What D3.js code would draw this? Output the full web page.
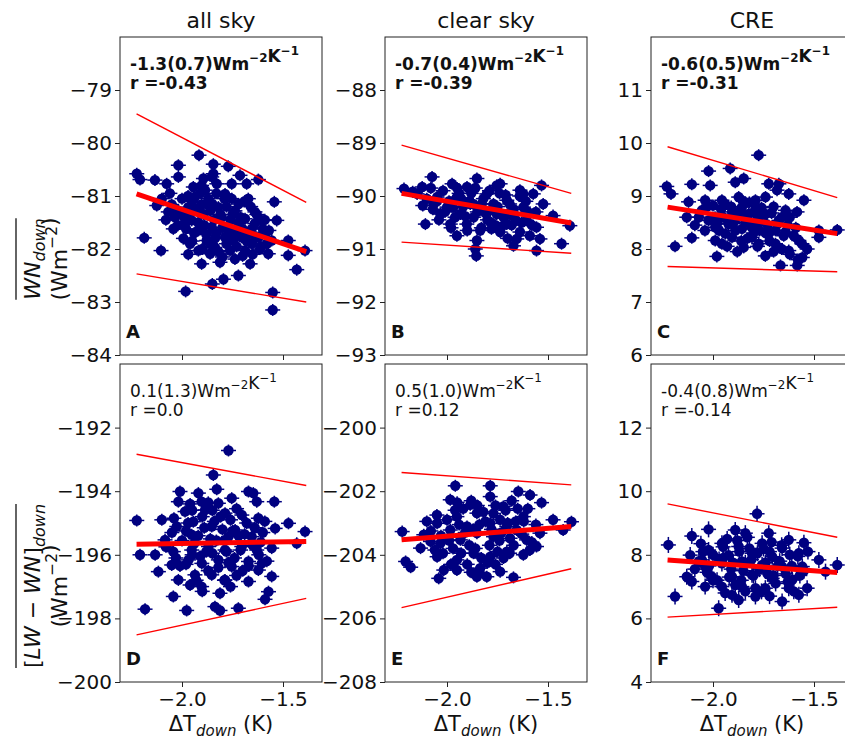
<!DOCTYPE html>
<html>
<head>
<meta charset="utf-8">
<script src="https://cdn.jsdelivr.net/npm/d3@7/dist/d3.min.js"></script>
<style>
  body { margin: 0; background: #fff; }
  text { font-family: "DejaVu Sans", sans-serif; fill: #111; }
</style>
</head>
<body>
<div class="vis-holder"></div>
<script>
// column titles and panel letters
var columnTitles = ["all sky", "clear sky", "CRE"];
var panelLetters = ["A", "B", "C", "D", "E", "F"];
// regression slope (uncertainty) and correlation text per panel
var slopeText = ["-1.3(0.7)", "-0.7(0.4)", "-0.6(0.5)", "0.1(1.3)", "0.5(1.0)", "-0.4(0.8)"];
var rText = ["-0.43", "-0.39", "-0.31", "0.0", "0.12", "-0.14"];

// axis limits and ticks
var xDomain = [-2.307, -1.307];
var xTicks = [-2.0, -1.5];
var yDomains = [[-84, -78], [-93, -87], [6, 12], [-200, -190], [-208, -198], [4, 14]];
var yTicks = [
  [-84, -83, -82, -81, -80, -79],
  [-93, -92, -91, -90, -89, -88],
  [6, 7, 8, 9, 10, 11],
  [-200, -198, -196, -194, -192],
  [-208, -206, -204, -202, -200],
  [4, 6, 8, 10, 12]
];

// fit line (thick) and the two bounding lines (thin), at the ends of fitX
var fitX = [-2.225, -1.385];
var fitY = [[-80.96, -82.05], [-89.95, -90.51], [8.79, 8.29], [-195.67, -195.58], [-203.53, -203.11], [7.84, 7.44]];
var upperY = [[-79.45, -81.12], [-89.04, -89.95], [9.93, 8.97], [-192.84, -193.82], [-201.41, -201.80], [9.60, 8.55]];
var lowerY = [[-82.47, -83.00], [-90.87, -91.08], [7.67, 7.57], [-198.52, -197.37], [-205.66, -204.44], [6.04, 6.35]];

// scatter points [dT_down, value]
var pointsA = [
  [-1.916,-80.23],[-2.018,-80.42],[-1.845,-80.40],[-1.771,-80.44],[-2.224,-80.58],[-2.208,-80.69],[-2.134,-80.70],[-2.076,-80.77],
  [-2.018,-80.64],[-1.894,-80.67],[-1.845,-80.58],[-1.713,-80.61],[-1.680,-80.77],[-1.622,-80.69],[-1.543,-81.11],[-2.125,-81.18],
  [-2.187,-81.79],[-2.104,-82.03],[-1.969,-82.10],[-1.919,-82.03],[-1.903,-82.28],[-1.812,-82.25],[-1.738,-82.19],[-1.663,-82.28],
  [-1.721,-82.50],[-1.795,-82.57],[-1.850,-82.66],[-1.982,-82.80],[-1.551,-82.82],[-1.551,-83.15],[-1.432,-82.39],[-1.391,-82.03],
  [-1.474,-82.12],[-1.474,-81.84],[-1.531,-81.46],[-1.605,-81.46],[-1.589,-81.71],[-1.639,-81.30],[-1.672,-81.05],[-1.754,-81.05],
  [-2.051,-81.16],[-2.035,-81.40],[-2.043,-81.62],[-1.993,-81.80],[-1.952,-81.46],[-1.969,-81.21],[-1.936,-81.02],[-1.944,-80.83],
  [-1.886,-80.89],[-1.870,-81.16],[-1.894,-81.34],[-1.853,-81.59],[-1.878,-81.84],[-1.837,-81.97],[-1.787,-81.78],[-1.804,-81.40],
  [-1.820,-81.21],[-1.787,-80.96],[-1.828,-80.77],[-1.738,-81.28],[-1.721,-81.52],[-1.705,-81.78],[-1.655,-81.90],[-1.688,-82.03],
  [-1.614,-82.00],[-1.573,-82.09],[-1.556,-81.84],[-1.655,-81.62],[-1.771,-81.65],[-1.919,-81.65],[-1.985,-81.52],[-2.010,-81.30],
  [-2.068,-81.30],[-1.903,-81.16],[-1.853,-80.64],[-1.754,-80.77],[-1.903,-80.80],[-1.960,-81.90],[-1.861,-82.09],[-1.762,-82.03],
  [-1.746,-81.84],[-1.630,-81.78],[-1.688,-81.43],[-1.837,-81.80],
  [-2.00,-81.05],[-1.96,-81.33],[-1.92,-81.50],[-1.88,-81.72],[-1.84,-81.45],[-1.80,-81.60],[-1.76,-81.45],[-1.72,-81.15],
  [-1.70,-81.62],[-1.66,-81.20],[-1.64,-81.52],[-1.60,-81.62],[-1.58,-81.90],[-1.62,-81.78],[-1.78,-81.90],[-1.82,-82.05],
  [-1.90,-82.00],[-1.94,-81.70],[-2.02,-81.55],[-2.08,-81.45],[-1.98,-81.62],[-1.86,-81.28],[-1.78,-81.20],[-1.74,-81.70],
  [-1.68,-81.85],[-1.80,-82.15],[-1.70,-82.13],[-1.87,-81.05],[-1.95,-81.10],[-1.83,-80.95],
  [-2.06,-80.95],[-2.03,-81.25],[-1.99,-81.40],[-1.97,-81.00],[-1.93,-81.25],[-1.91,-80.95],[-1.89,-81.55],[-1.85,-81.15],
  [-1.83,-81.70],[-1.81,-81.35],[-1.79,-81.05],[-1.77,-81.80],[-1.75,-81.35],[-1.73,-81.95],[-1.71,-81.40],[-1.69,-81.10],
  [-1.67,-81.70],[-1.65,-82.10],[-1.63,-81.35],[-1.61,-81.95],[-1.59,-81.45],[-1.57,-81.65],[-1.95,-81.85],[-1.86,-81.90],
  [-2.10,-81.05]
];
var pointsB = [
  [-2.213,-89.86],[-2.123,-89.83],[-2.074,-89.64],[-1.975,-89.77],[-1.852,-89.67],[-1.754,-89.80],[-1.639,-89.89],[-1.532,-89.80],
  [-2.107,-90.53],[-1.951,-90.75],[-1.860,-91.00],[-1.855,-91.13],[-1.671,-90.94],[-1.557,-91.03],[-1.540,-90.81],[-1.433,-90.90],
  [-1.392,-90.56],[-1.475,-90.37],[-1.557,-90.59],[-2.148,-89.96],[-2.066,-90.15],[-2.033,-90.34],[-1.984,-90.53],[-1.902,-90.53],
  [-1.836,-90.65],[-1.737,-90.68],[-1.639,-90.68],[-1.606,-90.46],[-1.524,-90.15],[-1.573,-89.96],[-1.704,-90.08],[-1.803,-89.96],
  [-1.901,-89.83],[-1.951,-90.02],[-2.000,-90.21],[-1.885,-90.15],[-1.786,-90.27],[-1.688,-90.34],[-1.622,-90.21],[-1.868,-90.40],
  [-1.786,-90.49],[-1.704,-90.53],[-1.934,-90.34],[-2.049,-90.02],[-1.737,-89.77],[-1.622,-89.96],[-1.828,-90.15],[-1.754,-90.34],
  [-1.852,-90.84],[-1.655,-90.81],
  [-2.17,-89.92],[-2.10,-90.05],[-2.02,-89.90],[-1.99,-90.10],[-1.95,-89.85],[-1.92,-90.20],[-1.88,-89.95],[-1.85,-90.30],
  [-1.82,-90.05],[-1.80,-90.45],[-1.77,-90.15],[-1.74,-89.95],[-1.72,-90.40],[-1.69,-90.15],[-1.66,-90.45],[-1.64,-90.00],
  [-1.60,-90.30],[-1.58,-90.55],[-1.96,-90.40],[-2.04,-90.45],[-1.90,-90.65],[-1.83,-90.60],[-1.76,-90.55],[-1.70,-90.80],
  [-1.87,-90.15],[-1.93,-90.05],[-2.07,-90.25],
  [-2.12,-90.18],[-2.08,-89.85],[-2.05,-90.10],[-2.01,-90.30],[-1.97,-90.22],[-1.94,-89.95],[-1.91,-90.38],[-1.89,-90.10],
  [-1.86,-89.85],[-1.84,-90.22],[-1.81,-90.32],[-1.79,-89.90],[-1.78,-90.62],[-1.75,-90.20],[-1.73,-90.58],[-1.71,-89.98],
  [-1.68,-90.55],[-1.67,-90.25],[-1.63,-90.50],[-1.61,-90.10],[-1.59,-90.75],[-1.56,-90.30],[-1.98,-90.60]
];
var pointsC = [
  [-1.774,9.77],[-2.022,9.47],[-1.915,9.52],[-2.229,9.18],[-2.208,9.04],[-2.105,9.22],[-2.014,9.20],[-1.890,9.26],
  [-1.848,9.33],[-1.724,9.23],[-1.674,9.23],[-1.625,9.04],[-1.683,9.11],[-1.550,8.92],[-2.121,8.89],[-2.130,8.60],
  [-2.105,8.21],[-2.188,8.05],[-1.981,7.86],[-1.989,8.16],[-1.848,8.03],[-1.741,7.87],[-1.666,7.69],[-1.583,7.69],
  [-1.558,7.84],[-1.534,8.00],[-1.575,8.16],[-1.476,8.22],[-1.476,8.35],[-1.385,8.36],[-1.584,8.70],[-1.641,8.73],
  [-2.055,8.73],[-2.022,8.54],[-1.956,8.92],[-1.873,8.98],[-1.790,8.92],[-1.740,8.98],[-1.906,8.70],[-1.824,8.66],
  [-1.741,8.66],[-1.674,8.54],[-1.989,8.41],[-1.923,8.47],[-1.857,8.38],[-1.790,8.44],[-1.724,8.29],[-1.641,8.32],
  [-1.906,8.22],[-1.807,8.22],[-1.956,8.10],[-1.774,8.10],[-1.691,8.10],[-1.625,7.97],[-1.857,8.79],[-2.039,8.92],
  [-1.939,8.29],[-1.757,8.54],
  [-2.07,8.60],[-2.03,8.80],[-1.99,8.60],[-1.97,8.35],[-1.94,8.85],[-1.92,8.55],[-1.89,8.35],[-1.87,8.70],
  [-1.84,8.50],[-1.82,8.88],[-1.80,8.30],[-1.78,8.62],[-1.76,8.78],[-1.73,8.45],[-1.71,8.68],[-1.69,8.35],
  [-1.66,8.60],[-1.63,8.45],[-1.60,8.25],[-1.86,8.15],[-1.93,8.05],[-1.72,8.15],[-1.66,8.00],[-1.62,7.90],
  [-1.58,7.80],[-1.96,8.75],[-1.83,8.20],[-1.78,8.05],
  [-2.09,8.45],[-2.04,8.35],[-2.00,8.82],[-1.98,8.48],[-1.95,8.60],[-1.91,8.80],[-1.90,8.48],[-1.88,8.60],
  [-1.85,8.90],[-1.83,8.62],[-1.81,8.42],[-1.79,8.75],[-1.77,8.35],[-1.75,8.62],[-1.74,8.30],[-1.70,8.80],
  [-1.68,8.48],[-1.65,8.25],[-1.62,8.60],[-1.59,8.40],[-1.56,8.10],[-1.88,7.95],[-1.70,7.95]
];
var pointsD = [
  [-1.770,-192.72],[-1.845,-193.49],[-2.010,-194.01],[-1.919,-194.06],[-1.828,-193.94],[-1.671,-194.01],[-1.647,-194.06],[-2.018,-194.33],
  [-1.903,-194.33],[-1.820,-194.38],[-1.754,-194.22],[-1.630,-194.33],[-1.543,-194.33],[-2.224,-194.92],[-2.100,-194.90],[-1.985,-194.64],
  [-1.944,-194.96],[-1.886,-194.59],[-1.787,-194.69],[-1.704,-194.75],[-1.622,-194.85],[-1.473,-195.01],[-1.391,-195.27],[-1.539,-195.17],
  [-2.026,-195.11],[-1.853,-195.11],[-1.737,-195.22],[-2.084,-195.53],[-2.208,-196.00],[-2.133,-196.00],[-2.043,-195.90],[-1.952,-195.85],
  [-1.869,-195.74],[-1.787,-195.85],[-1.704,-195.74],[-1.630,-195.85],[-1.556,-195.79],[-1.432,-195.64],[-2.117,-196.53],[-2.051,-196.32],
  [-1.968,-196.16],[-1.902,-196.27],[-1.820,-196.16],[-1.754,-196.37],[-1.671,-196.21],[-1.605,-196.27],[-1.622,-196.48],[-1.556,-196.68],
  [-2.018,-196.79],[-1.936,-196.63],[-1.853,-196.63],[-1.787,-196.79],[-1.671,-196.84],[-1.903,-197.00],[-1.812,-197.21],[-2.043,-197.31],
  [-1.572,-197.16],[-1.589,-197.40],[-2.183,-197.71],[-1.977,-197.75],[-1.837,-197.63],[-1.812,-197.75],[-1.721,-197.68],[-1.952,-195.37],
  [-1.770,-195.43],[-1.655,-195.43],
  [-2.05,-195.30],[-2.00,-195.55],[-1.97,-195.00],[-1.95,-196.00],[-1.92,-195.40],[-1.90,-194.80],[-1.88,-195.90],[-1.86,-195.50],
  [-1.84,-194.95],[-1.82,-196.40],[-1.80,-195.20],[-1.78,-195.90],[-1.76,-194.90],[-1.74,-196.10],[-1.72,-195.40],[-1.70,-196.50],
  [-1.68,-195.00],[-1.65,-195.70],[-1.62,-196.00],[-1.60,-195.30],[-1.58,-196.20],[-1.98,-196.30],[-1.93,-196.80],[-1.87,-196.50],
  [-1.79,-196.80],[-1.73,-196.65],[-2.03,-196.10],[-1.85,-194.60],[-1.95,-194.60],
  [-2.08,-195.75],[-2.04,-194.85],[-2.01,-196.35],[-1.98,-195.25],[-1.96,-194.40],[-1.94,-195.65],[-1.91,-196.05],[-1.89,-195.15],
  [-1.87,-194.35],[-1.85,-195.95],[-1.83,-195.55],[-1.81,-194.80],[-1.79,-195.55],[-1.77,-196.25],[-1.75,-195.25],[-1.73,-194.55],
  [-1.71,-195.85],[-1.69,-195.35],[-1.67,-196.35],[-1.64,-195.15],[-1.61,-195.60],[-1.59,-194.95],[-1.90,-197.15],[-1.76,-197.00],
  [-1.96,-196.95]
];
var pointsE = [
  [-1.959,-201.83],[-1.786,-201.83],[-1.647,-202.01],[-1.589,-202.12],[-1.532,-202.36],[-1.984,-202.27],[-1.885,-202.43],[-1.786,-202.17],
  [-1.721,-202.48],[-1.475,-202.90],[-1.384,-202.96],[-1.425,-203.22],[-2.222,-203.27],[-2.115,-203.37],[-2.049,-203.01],[-1.951,-202.80],
  [-1.852,-202.69],[-1.737,-202.90],[-1.622,-202.80],[-1.540,-203.32],[-2.131,-203.79],[-2.033,-203.64],[-1.934,-203.53],[-1.852,-203.32],
  [-1.770,-203.43],[-1.688,-203.48],[-1.606,-203.53],[-1.557,-203.74],[-2.205,-204.21],[-2.180,-204.39],[-2.049,-204.06],[-1.951,-204.16],
  [-1.869,-203.95],[-1.786,-204.06],[-1.704,-203.90],[-1.622,-204.00],[-2.016,-204.48],[-1.951,-204.48],[-1.836,-204.42],[-1.737,-204.53],
  [-2.041,-204.74],[-1.852,-204.69],[-1.803,-204.69],[-1.671,-204.71],[-1.901,-203.11],[-1.786,-203.01],[-1.984,-203.22],[-1.704,-203.11],
  [-1.655,-203.22],[-2.082,-203.58],
  [-2.08,-203.25],[-2.03,-203.40],[-2.00,-202.90],[-1.97,-203.80],[-1.94,-203.05],[-1.92,-202.55],[-1.89,-203.70],[-1.87,-203.20],
  [-1.85,-202.45],[-1.83,-204.10],[-1.81,-202.95],[-1.79,-203.70],[-1.77,-202.70],[-1.75,-203.90],[-1.73,-203.30],[-1.71,-202.60],
  [-1.69,-203.95],[-1.66,-202.95],[-1.63,-203.35],[-1.60,-202.55],[-1.58,-203.60],[-1.90,-204.30],[-1.84,-204.55],[-1.76,-204.30],
  [-2.06,-203.85],[-1.95,-202.35],[-1.68,-202.30],
  [-2.10,-202.95],[-2.05,-202.75],[-2.02,-203.95],[-1.99,-203.55],[-1.96,-202.60],[-1.93,-203.95],[-1.91,-203.30],[-1.88,-202.30],
  [-1.86,-203.80],[-1.84,-203.05],[-1.82,-202.65],[-1.80,-204.25],[-1.78,-203.20],[-1.76,-202.45],[-1.74,-203.55],[-1.72,-204.10],
  [-1.70,-203.00],[-1.67,-203.70],[-1.65,-202.55],[-1.62,-202.95],[-1.59,-203.85],[-1.56,-203.05],[-1.98,-204.30],[-1.88,-204.55]
];
var pointsF = [
  [-1.782,9.29],[-2.221,8.31],[-2.105,8.59],[-2.022,8.80],[-1.890,8.78],[-1.840,8.68],[-1.724,8.68],[-1.625,8.47],
  [-1.550,8.38],[-1.476,7.84],[-1.385,7.68],[-2.130,7.31],[-2.105,7.16],[-2.188,6.69],[-2.039,7.00],[-1.972,6.32],
  [-1.906,6.74],[-1.790,6.69],[-1.658,6.53],[-1.575,6.74],[-1.534,6.95],[-1.443,7.47],[-2.113,7.99],[-2.022,8.15],
  [-1.956,8.36],[-1.873,8.26],[-1.757,8.36],[-1.658,8.21],[-1.575,8.05],[-2.039,7.63],[-1.956,7.73],[-1.857,7.79],
  [-1.757,7.68],[-1.658,7.63],[-1.558,7.63],[-2.006,7.31],[-1.906,7.31],[-1.807,7.37],[-1.707,7.26],[-1.608,7.21],
  [-1.956,7.00],[-1.857,7.00],[-1.741,6.95],[-1.625,6.95],[-1.923,7.99],[-1.807,8.05],[-1.707,7.94],[-2.055,7.84],
  [-1.873,6.58],
  [-2.07,7.80],[-2.03,7.45],[-2.00,8.00],[-1.98,7.20],[-1.95,7.90],[-1.93,8.50],[-1.91,7.55],[-1.89,7.05],
  [-1.87,8.10],[-1.85,7.50],[-1.83,8.55],[-1.81,7.85],[-1.79,6.95],[-1.77,7.55],[-1.75,8.20],[-1.73,7.40],
  [-1.71,8.40],[-1.69,7.10],[-1.67,7.80],[-1.64,7.40],[-1.62,8.00],[-1.60,6.85],[-1.57,7.35],[-1.94,6.80],
  [-1.84,6.85],[-1.72,6.70],[-2.06,8.35],[-1.53,8.10],
  [-2.09,7.55],[-2.05,8.10],[-2.02,7.65],[-2.00,7.20],[-1.97,7.85],[-1.95,8.25],[-1.92,7.30],[-1.90,7.75],
  [-1.88,8.45],[-1.86,7.20],[-1.84,7.75],[-1.82,8.20],[-1.80,7.35],[-1.78,8.05],[-1.76,6.85],[-1.74,7.75],
  [-1.72,8.10],[-1.70,7.35],[-1.68,7.65],[-1.66,8.30],[-1.63,7.15],[-1.61,7.65],[-1.58,7.95],[-1.55,7.50]
];
var allPoints = [pointsA, pointsB, pointsC, pointsD, pointsE, pointsF];

// page layout
var width = 845;
var height = 742;
var panelLeft = [120, 385, 651];
var panelTop = [37, 364];
var panelW = 202;
var panelH = 318;
// half lengths of the error bar whiskers, in px
var xBar = 7.5;
var yBar = [6, 6, 6, 6, 6, 8];

var svg = d3.select(".vis-holder")
            .append("svg")
            .attr("width", width)
            .attr("height", height);

// add a superscript after the current text
function sup(sel, s, size) {
  sel.append("tspan").attr("dy", -size * 0.45).attr("font-size", size * 0.7).text(s);
  sel.append("tspan").attr("dy", size * 0.45).text("");
}

for (var i = 0; i < 6; i++) {
  var col = i % 3;
  var row = Math.floor(i / 3);
  var x0 = panelLeft[col];
  var y0 = panelTop[row];

  var xScale = d3.scaleLinear().domain(xDomain).range([x0, x0 + panelW]);
  var yScale = d3.scaleLinear().domain(yDomains[i]).range([y0 + panelH, y0]);

  var g = svg.append("g");

  // y axis
  var yAxis = g.append("g")
               .attr("transform", `translate(${x0}, 0)`)
               .call(d3.axisLeft(yScale).tickValues(yTicks[i]).tickSize(5).tickPadding(3)
                     .tickFormat(function(d) { return d3.format("d")(d).replace("-", "\u2212"); }));
  // x axis, labels only on the bottom row
  var xAxis = g.append("g")
               .attr("transform", `translate(0, ${y0 + panelH})`)
               .call(d3.axisBottom(xScale).tickValues(xTicks).tickSize(5).tickPadding(5)
                     .tickFormat(function(d) { return row == 1 ? d3.format(".1f")(d).replace("-", "\u2212") : ""; }));
  g.selectAll(".domain").remove();
  g.selectAll(".tick line").attr("stroke", "#222").attr("stroke-width", 1);
  g.selectAll(".tick text").attr("font-size", 20).attr("fill", "#111")
   .attr("font-family", "DejaVu Sans, sans-serif");

  // scatter with error whiskers
  var pts = g.append("g").selectAll("g")
             .data(allPoints[i])
             .enter()
             .append("g")
             .attr("transform", function(d) { return `translate(${xScale(d[0])}, ${yScale(d[1])})`; });
  pts.append("line").attr("x1", -xBar).attr("x2", xBar)
     .attr("stroke", "#000080").attr("stroke-width", 1.5);
  pts.append("line").attr("y1", -yBar[i]).attr("y2", yBar[i])
     .attr("stroke", "#000080").attr("stroke-width", 1.5);
  pts.append("circle").attr("r", 5.2).attr("fill", "#000080");

  // fit line and bounds
  var line = d3.line()
               .x(function(d) { return xScale(d[0]); })
               .y(function(d) { return yScale(d[1]); });
  g.append("path").attr("d", line([[fitX[0], upperY[i][0]], [fitX[1], upperY[i][1]]]))
   .attr("stroke", "red").attr("stroke-width", 1.4).attr("fill", "none");
  g.append("path").attr("d", line([[fitX[0], lowerY[i][0]], [fitX[1], lowerY[i][1]]]))
   .attr("stroke", "red").attr("stroke-width", 1.4).attr("fill", "none");
  g.append("path").attr("d", line([[fitX[0], fitY[i][0]], [fitX[1], fitY[i][1]]]))
   .attr("stroke", "red").attr("stroke-width", 5).attr("fill", "none");

  // frame
  g.append("rect")
   .attr("x", x0).attr("y", y0)
   .attr("width", panelW).attr("height", panelH)
   .attr("fill", "none").attr("stroke", "#222").attr("stroke-width", 1);

  // slope and r text
  var weight = row == 0 ? "bold" : "normal";
  var t1 = g.append("text")
            .attr("x", x0 + 10).attr("y", y0 + 33)
            .attr("font-size", 17).attr("font-weight", weight);
  t1.append("tspan").text(slopeText[i] + "Wm");
  sup(t1, "\u22122", 17);
  t1.append("tspan").text("K");
  sup(t1, "\u22121", 17);
  g.append("text")
   .attr("x", x0 + 10).attr("y", y0 + 52)
   .attr("font-size", 17).attr("font-weight", weight)
   .text("r =" + rText[i]);

  // panel letter
  g.append("text")
   .attr("x", x0 + 6).attr("y", y0 + panelH - 17)
   .attr("font-size", 18).attr("font-weight", "bold")
   .text(panelLetters[i]);

  // column titles on top
  if (row == 0) {
    g.append("text")
     .attr("x", x0 + panelW / 2).attr("y", 28)
     .attr("text-anchor", "middle").attr("font-size", 22)
     .text(columnTitles[col]);
  }

  // x axis title on the bottom row
  if (row == 1) {
    var xl = g.append("text")
              .attr("x", x0 + panelW / 2).attr("y", 731)
              .attr("text-anchor", "middle").attr("font-size", 21);
    xl.append("tspan").text("\u0394T");
    xl.append("tspan").attr("dy", 5).attr("font-size", 15).attr("font-style", "italic").text("down");
    xl.append("tspan").attr("dy", -5).text(" (K)");
  }
}

// y axis titles (two lines, rotated, with an overline on the first line)
function yLabel(cy, row) {
  var lg = svg.append("g").attr("transform", `translate(40, ${cy}) rotate(-90)`);
  var l1 = lg.append("text").attr("text-anchor", "middle").attr("font-size", 22);
  if (row == 0) {
    l1.append("tspan").attr("font-style", "italic").text("WN");
  } else {
    l1.append("tspan").text("[");
    l1.append("tspan").attr("font-style", "italic").text("LW");
    l1.append("tspan").text(" \u2212 ");
    l1.append("tspan").attr("font-style", "italic").text("WN");
    l1.append("tspan").text("]");
  }
  l1.append("tspan").attr("dy", 5).attr("font-size", 16).attr("font-style", "italic").text("down");
  var bb = l1.node().getBBox();
  lg.append("line")
    .attr("x1", bb.x).attr("x2", bb.x + bb.width)
    .attr("y1", -24).attr("y2", -24)
    .attr("stroke", "#111").attr("stroke-width", 1.3);
  var l2 = lg.append("text").attr("text-anchor", "middle").attr("font-size", 22).attr("y", 27);
  l2.append("tspan").text("(Wm");
  sup(l2, "\u22122", 22);
  l2.append("tspan").text(")");
}
yLabel(panelTop[0] + panelH / 2 + 63, 0);
yLabel(panelTop[1] + panelH / 2 + 63, 1);
</script>
</body>
</html>
